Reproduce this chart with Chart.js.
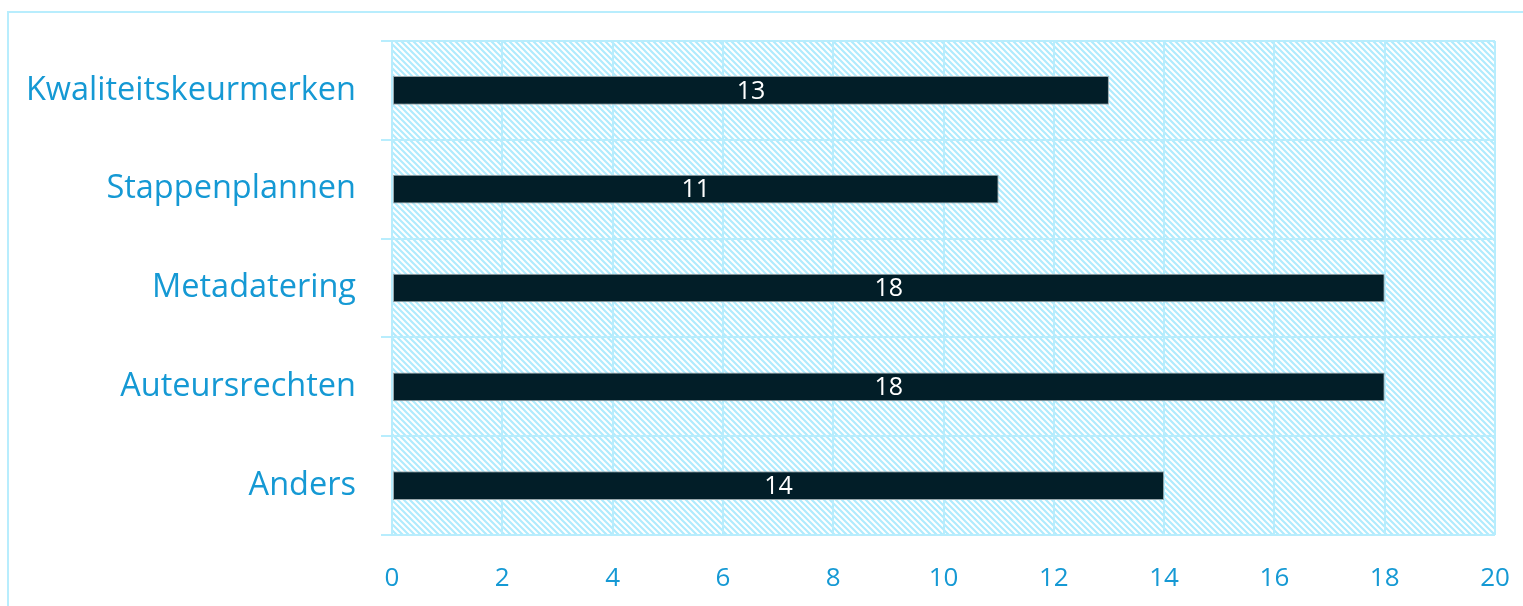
<!DOCTYPE html>
<html lang="nl">
<head>
    <meta charset="UTF-8">
    <title>Onderwerpen</title>
    <script src="https://cdn.jsdelivr.net/npm/chart.js"></script>
    <style>
        html, body { margin: 0; padding: 0; background: #fff; }
        .chart-container { position: relative; width: 1523px; height: 606px; }
    </style>
</head>
<body>
    <div class="chart-container">
        <canvas id="topicChart"></canvas>
    </div>
    <script>
        const categories = ["Kwaliteitskeurmerken", "Stappenplannen", "Metadatering", "Auteursrechten", "Anders"];
        const counts = [13, 11, 18, 18, 14];
        const xTicks = [0, 2, 4, 6, 8, 10, 12, 14, 16, 18, 20];

        const textColor = "#1599d4";
        const gridColor = "#b8edfd";

        // diagonal hatch for the plot background
        function makeHatch() {
            const c = document.createElement("canvas");
            c.width = 6; c.height = 6;
            const g = c.getContext("2d");
            g.strokeStyle = "#b0ebfd";
            g.lineWidth = 2.2;
            g.beginPath();
            g.moveTo(-3, -3); g.lineTo(9, 9);
            g.moveTo(-9, -3); g.lineTo(3, 9);
            g.moveTo(3, -3); g.lineTo(15, 9);
            g.stroke();
            return g.createPattern(c, "repeat");
        }

        const backdrop = {
            id: "backdrop",
            beforeDraw(chart) {
                const ctx = chart.ctx;
                const a = chart.chartArea;
                ctx.save();
                ctx.strokeStyle = gridColor;
                ctx.lineWidth = 2;
                ctx.strokeRect(8, 12, 1523, 606);
                ctx.fillStyle = makeHatch();
                ctx.fillRect(a.left, a.top, a.right - a.left, a.bottom - a.top);
                ctx.restore();
            }
        };

        const valueLabels = {
            id: "valueLabels",
            afterDatasetsDraw(chart) {
                const ctx = chart.ctx;
                const meta = chart.getDatasetMeta(0);
                ctx.save();
                ctx.fillStyle = "#ffffff";
                ctx.font = "25px 'Open Sans'";
                ctx.textAlign = "center";
                ctx.textBaseline = "middle";
                meta.data.forEach((bar, i) => {
                    const x = (bar.base + bar.x) / 2;
                    ctx.fillText(counts[i], x, bar.y + 1);
                });
                ctx.restore();
            }
        };

        const ctx = document.getElementById("topicChart").getContext("2d");
        new Chart(ctx, {
            type: "bar",
            data: {
                labels: categories,
                datasets: [{
                    data: counts,
                    backgroundColor: "#021e28",
                    borderColor: "#9aa8ad",
                    borderWidth: 1,
                    borderSkipped: false,
                    barPercentage: 0.29,
                    categoryPercentage: 1
                }]
            },
            options: {
                indexAxis: "y",
                responsive: true,
                maintainAspectRatio: false,
                animation: false,
                layout: { padding: { left: 0, top: 41, right: 28, bottom: 0 } },
                plugins: {
                    legend: { display: false },
                    tooltip: { enabled: false }
                },
                scales: {
                    x: {
                        min: 0,
                        max: 20,
                        afterBuildTicks(scale) {
                            scale.ticks = xTicks.map(v => ({ value: v }));
                        },
                        afterFit(scale) {
                            scale.height = 71;
                            scale.paddingLeft = 0;
                            scale.paddingRight = 0;
                        },
                        grid: { color: gridColor, lineWidth: 2, drawTicks: false },
                        border: { display: false },
                        ticks: { color: textColor, font: { family: "'Open Sans'", size: 26 }, padding: 28, maxRotation: 0 }
                    },
                    y: {
                        afterFit(scale) {
                            scale.width = 392;
                            scale.paddingTop = 0;
                            scale.paddingBottom = 0;
                        },
                        grid: { color: gridColor, lineWidth: 2, tickLength: 11 },
                        border: { display: false },
                        ticks: { color: textColor, font: { family: "'Open Sans'", size: 32.5 }, padding: 25 }
                    }
                }
            },
            plugins: [backdrop, valueLabels]
        });
    </script>
</body>
</html>
